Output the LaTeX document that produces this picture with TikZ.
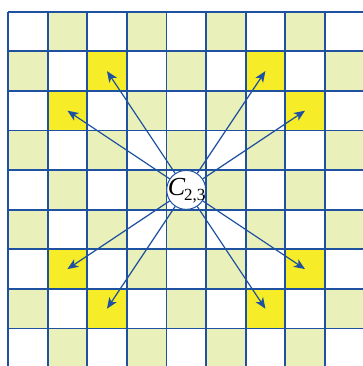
\documentclass[tikz,border=0pt]{standalone}
\usepackage{fontspec}
\setmainfont{Liberation Serif}
\usetikzlibrary{arrows.meta}
\definecolor{gridblue}{RGB}{30,82,160}
\definecolor{paleg}{RGB}{234,240,186}
\definecolor{hiy}{RGB}{246,236,40}
\begin{document}
\begin{tikzpicture}[x=1pt,y=-1pt,
  gridline/.style={draw=gridblue,line width=1.8pt},
  arr/.style={draw=gridblue,line width=1.2pt,-{Stealth[length=11pt,width=9pt,inset=3pt]}},
  centre/.style={circle,draw=gridblue,fill=white,line width=1pt,minimum size=39pt,inner sep=0pt},
  lab/.style={inner sep=0pt,font=\fontsize{26}{26}\selectfont}]
\def\xo{8}\def\yo{11.7}\def\st{39.6}
\useasboundingbox (0,0) rectangle (363,366);
\begin{scope}
\clip (0,0) rectangle (363,366);
\foreach \r in {0,...,8}{
  \foreach \c in {0,...,8}{
    \pgfmathtruncatemacro{\pp}{mod(\r+\c,2)}
    \ifnum\pp=1
      \fill[paleg] (\xo+\c*\st,\yo+\r*\st) rectangle ++(\st,\st);
    \fi
  }
}
\foreach \r/\c in {1/2,1/6,2/1,2/7,6/1,6/7,7/2,7/6}{
  \fill[hiy] (\xo+\c*\st,\yo+\r*\st) rectangle ++(\st,\st);
  \coordinate (t\r\c) at (\xo+\c*\st+0.5*\st,\yo+\r*\st+0.5*\st);
}
\foreach \i in {0,...,9}{
  \draw[gridline] (\xo+\i*\st,\yo) -- (\xo+\i*\st,400);
  \draw[gridline] (\xo,\yo+\i*\st) -- (400,\yo+\i*\st);
}
\end{scope}
\node[centre] (C) at (\xo+4.5*\st,\yo+4.5*\st) {};
\foreach \t in {t12,t16,t21,t27,t61,t67,t72,t76}{
  \draw[arr] (C) -- (\t);
}
\node[lab] (Clab) at ([xshift=0.5pt,yshift=-1pt]C) {\itshape C\kern-1pt\raisebox{-5pt}{\fontsize{17}{17}\selectfont\upshape 2,3}};
\end{tikzpicture}
\end{document}
